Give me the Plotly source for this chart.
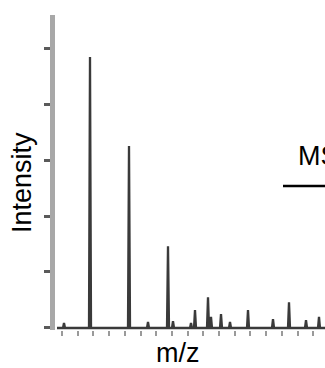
import plotly.graph_objects as go

# Peak positions (relative m/z units) and intensities
peak_mz = [9, 35, 74, 93, 113, 118, 136, 140, 153, 156, 166, 175, 193, 218, 234, 251, 264]
peak_int = [0.09, 4.84, 3.25, 0.11, 1.46, 0.12, 0.09, 0.32, 0.55, 0.2, 0.25, 0.11, 0.32, 0.16, 0.46, 0.14, 0.2]
x_start, x_end = 2, 272
y_ticks = [0, 1, 2, 3, 4, 5]

xs, ys = [x_start], [0]
for m, h in zip(peak_mz, peak_int):
    xs += [m - 1.0, m, m + 1.0]
    ys += [0, h, 0]
xs.append(x_end)
ys.append(0)

W, H = 325, 368
L, R, T, B = 55, 0, 15, 38
pw, ph = W - L - R, H - T - B

def px(x):
    return (x - L) / pw

def py(y):
    return (H - B - y) / ph

fig = go.Figure()
fig.add_trace(go.Scatter(x=xs, y=ys, mode="lines",
                         line=dict(color="#3a3a3a", width=2.3),
                         hoverinfo="skip", showlegend=False))

fig.update_layout(
    width=W, height=H,
    margin=dict(l=L, r=R, t=T, b=B, pad=0),
    paper_bgcolor="white", plot_bgcolor="white",
    font=dict(family="Liberation Sans, Arial, sans-serif", color="black"),
    xaxis=dict(range=[0, 270], showgrid=False, zeroline=False, showline=False,
               ticks="outside", ticklen=5, tickwidth=2, tickcolor="#9a9a9a",
               tick0=7, dtick=15.7, showticklabels=False, fixedrange=True),
    yaxis=dict(range=[-0.036, 5.59], showgrid=False, zeroline=False,
               showline=True, linecolor="#a8a8a8", linewidth=5,
               ticks="outside", ticklen=6, tickwidth=3, tickcolor="#5a5a5a",
               tickvals=y_ticks, showticklabels=False, fixedrange=True),
    annotations=[
        dict(text="m/z", x=px(178), y=py(353), xref="paper", yref="paper",
             xanchor="center", yanchor="middle", showarrow=False,
             font=dict(size=27)),
        dict(text="Intensity", x=px(22), y=py(183), xref="paper", yref="paper",
             xanchor="center", yanchor="middle", showarrow=False, textangle=-90,
             font=dict(size=27)),
        dict(text="MS/MS", x=px(296), y=py(156), xref="paper", yref="paper",
             xanchor="left", yanchor="middle", showarrow=False,
             font=dict(size=27)),
    ],
    shapes=[
        dict(type="line", xref="paper", yref="paper",
             x0=px(283), x1=px(340), y0=py(186), y1=py(186),
             line=dict(color="black", width=2.5)),
    ],
)

fig.write_html("out.html")
